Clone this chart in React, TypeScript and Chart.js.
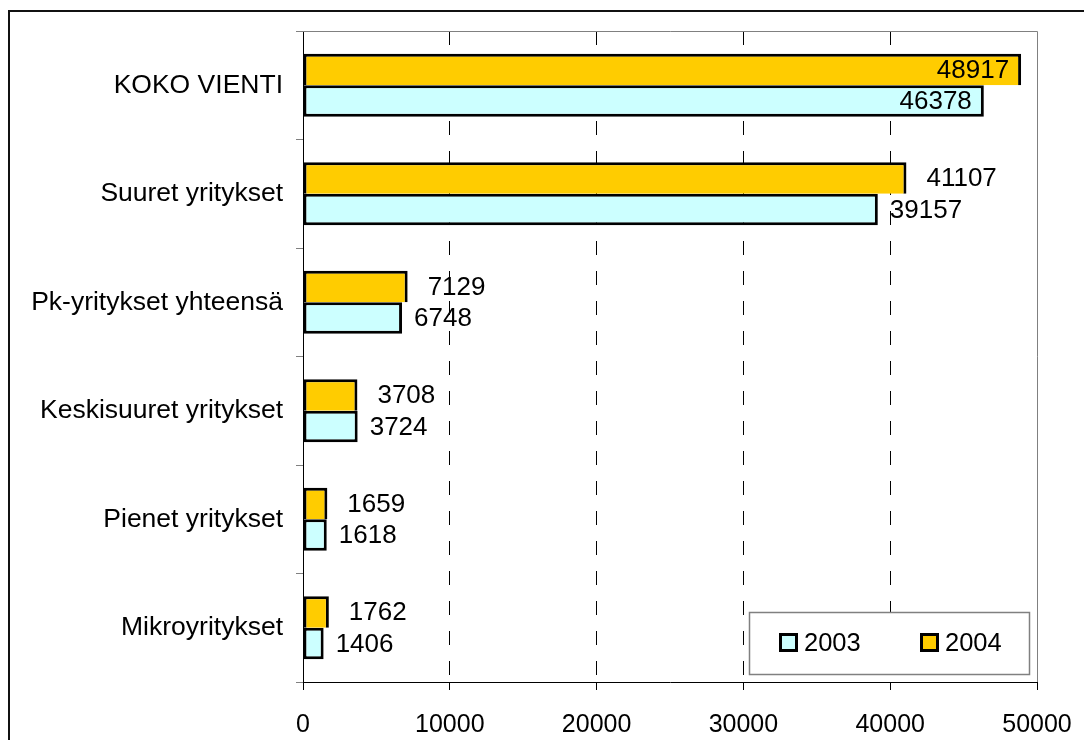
import React, { useEffect, useRef } from "react";
import { Chart, registerables } from "chart.js";

Chart.register(...registerables);

const categories = [
  "KOKO VIENTI",
  "Suuret yritykset",
  "Pk-yritykset yhteensä",
  "Keskisuuret yritykset",
  "Pienet yritykset",
  "Mikroyritykset",
];
const values2003 = [46378, 39157, 6748, 3724, 1618, 1406];
const values2004 = [48917, 41107, 7129, 3708, 1659, 1762];
const seriesLabels = ["2003", "2004"];
const seriesColors = ["#CCFFFF", "#FFCC00"];
const xMin = 0;
const xMax = 50000;
const xStep = 10000;

const FONT = "'Liberation Sans', Arial, sans-serif";

const framePlugin = {
  id: "frame",
  beforeDraw(chart: any) {
    const ctx = chart.ctx;
    ctx.save();
    ctx.fillStyle = "#fff";
    ctx.fillRect(0, 0, chart.width, chart.height);
    ctx.fillStyle = "#111";
    ctx.fillRect(8, 10, 2, chart.height);
    ctx.fillRect(8, 10, chart.width, 2);
    ctx.restore();
  },
  beforeDatasetsDraw(chart: any) {
    const { ctx, chartArea } = chart;
    ctx.save();
    ctx.strokeStyle = "#808080";
    ctx.lineWidth = 1;
    ctx.beginPath();
    ctx.moveTo(chartArea.left, chartArea.top + 0.5);
    ctx.lineTo(chartArea.right + 0.5, chartArea.top + 0.5);
    ctx.lineTo(chartArea.right + 0.5, chartArea.bottom);
    ctx.stroke();
    ctx.restore();
  },
};

const valueLabelPlugin = {
  id: "valueLabels",
  afterDatasetsDraw(chart: any) {
    const { ctx, chartArea } = chart;
    ctx.save();
    ctx.font = `26px ${FONT}`;
    ctx.fillStyle = "#000";
    ctx.textBaseline = "middle";
    chart.data.datasets.forEach((ds: any, di: number) => {
      const meta = chart.getDatasetMeta(di);
      const gap = ds.label === "2004" ? 20 : 12;
      meta.data.forEach((el: any, i: number) => {
        const txt = String(ds.data[i]);
        const w = ctx.measureText(txt).width;
        const y = el.y + 1;
        if (el.x + gap + w > chartArea.right - 4) {
          ctx.textAlign = "right";
          ctx.fillText(txt, el.x - 12, y);
        } else {
          ctx.textAlign = "left";
          ctx.fillText(txt, el.x + gap, y);
        }
      });
    });
    ctx.restore();
  },
};

const legendPlugin = {
  id: "customLegend",
  afterDraw(chart: any) {
    const { ctx, chartArea } = chart;
    const bw = 280;
    const bh = 62;
    const bx = chartArea.right - 8 - bw;
    const by = chartArea.bottom - 8 - bh;
    ctx.save();
    ctx.fillStyle = "#fff";
    ctx.fillRect(bx, by, bw, bh);
    ctx.strokeStyle = "#808080";
    ctx.lineWidth = 1.5;
    ctx.strokeRect(bx + 0.5, by + 0.5, bw, bh);
    ctx.font = `25.5px ${FONT}`;
    ctx.textBaseline = "middle";
    ctx.textAlign = "left";
    const cy = by + bh / 2;
    const items = seriesLabels.map((l, i) => ({ label: l, color: seriesColors[i] }));
    items.forEach((it, i) => {
      const sx = bx + 30 + i * 141;
      ctx.fillStyle = it.color;
      ctx.fillRect(sx, cy - 10, 19, 19);
      ctx.strokeStyle = "#000";
      ctx.lineWidth = 3;
      ctx.strokeRect(sx + 1.5, cy - 8.5, 16, 16);
      ctx.fillStyle = "#000";
      ctx.fillText(it.label, sx + 25, cy + 1);
    });
    ctx.restore();
  },
};

export default function App() {
  const ref = useRef<HTMLCanvasElement | null>(null);

  useEffect(() => {
    if (!ref.current) return;
    const chart = new Chart(ref.current, {
      type: "bar",
      data: {
        labels: categories,
        datasets: [
          {
            label: seriesLabels[1],
            data: values2004,
            backgroundColor: seriesColors[1],
            borderColor: "#000",
            borderWidth: { top: 3, right: 3, bottom: 0, left: 3 },
            borderSkipped: false,
            categoryPercentage: 0.58,
            barPercentage: 1.0,
          },
          {
            label: seriesLabels[0],
            data: values2003,
            backgroundColor: seriesColors[0],
            borderColor: "#000",
            borderWidth: 3,
            borderSkipped: false,
            categoryPercentage: 0.58,
            barPercentage: 1.0,
          },
        ],
      },
      options: {
        indexAxis: "y",
        responsive: false,
        animation: false,
        devicePixelRatio: 1,
        layout: { padding: { left: 0, top: 31, right: 47, bottom: 0 } },
        plugins: {
          legend: { display: false },
          tooltip: { enabled: false },
        },
        scales: {
          x: {
            min: xMin,
            max: xMax,
            ticks: {
              stepSize: xStep,
              color: "#000",
              font: { family: FONT, size: 25 },
              padding: 20,
              maxRotation: 0,
              callback: (v: any) => String(v),
            },
            grid: {
              color: (c: any) =>
                c.tick && (c.tick.value === xMin || c.tick.value === xMax) ? "transparent" : "#000",
              lineWidth: 1,
              tickColor: "#000",
              tickLength: 8,
              drawTicks: true,
            },
            border: { display: true, color: "#000", width: 1, dash: [14, 16] },
            afterFit: (s: any) => {
              s.height = 58;
              s.paddingLeft = 0;
              s.paddingRight = 0;
            },
          },
          y: {
            ticks: {
              color: "#000",
              font: { family: FONT, size: 26.5 },
              padding: 13,
            },
            grid: {
              drawOnChartArea: false,
              drawTicks: true,
              tickLength: 7,
              tickColor: "#808080",
              color: "#808080",
              offset: true,
            },
            border: { display: true, color: "#000", width: 1 },
            afterFit: (s: any) => {
              s.width = 303;
              s.paddingTop = 0;
              s.paddingBottom = 0;
            },
          },
        },
      },
      plugins: [framePlugin, valueLabelPlugin, legendPlugin],
    });
    return () => chart.destroy();
  }, []);

  return (
    <div
      style={{
        position: "fixed",
        left: 0,
        top: 0,
        width: 1084,
        height: 740,
        overflow: "hidden",
        background: "#fff",
      }}
    >
      <canvas ref={ref} width={1084} height={740} style={{ display: "block", width: 1084, height: 740 }} />
    </div>
  );
}
